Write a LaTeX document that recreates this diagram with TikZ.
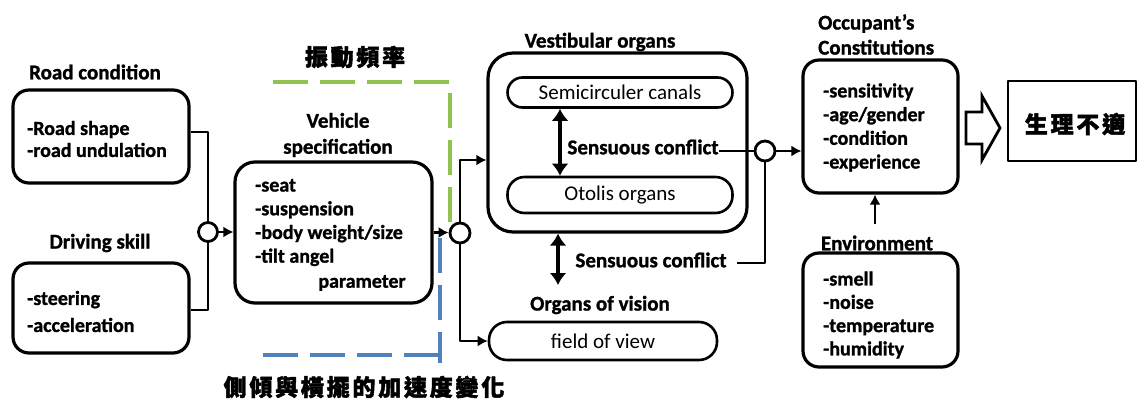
\documentclass[tikz,border=0pt]{standalone}
\usepackage{fontspec}
\setmainfont{Carlito}[BoldFeatures={FakeBold=1.2}]
\newfontfamily\cjk[LetterSpace=12,BoldFeatures={FakeBold=2}]{Noto Sans CJK TC}
\usetikzlibrary{arrows.meta}
\definecolor{dgreen}{RGB}{146,195,80}
\definecolor{dblue}{RGB}{79,129,189}
\begin{document}
\begin{tikzpicture}[x=1pt,y=-1pt,line join=round,
  box/.style={draw,line width=3.2pt,rounded corners=16pt,inner sep=0pt},
  pill/.style={draw,line width=2.6pt,rounded corners=15pt,inner sep=0pt,font=\fontsize{21}{24}\selectfont},
  hdr/.style={inner sep=0pt,align=center,font=\bfseries\fontsize{21}{26}\selectfont},
  lst/.style={inner sep=0pt,align=left,anchor=west,font=\bfseries\fontsize{20}{23.7}\selectfont},
  cjkf/.style={inner sep=0pt,font=\cjk\bfseries\fontsize{23}{26}\selectfont},
  circ/.style={circle,draw,fill=white,line width=2.8pt,minimum size=19pt,inner sep=0pt},
  conn/.style={line width=2.8pt},
  arr/.style={-{Latex[length=10pt,width=11pt]}},
  dbl/.style={line width=3.2pt,{Latex[length=12pt,width=17pt]}-{Latex[length=12pt,width=17pt]}},
  gdash/.style={line width=3.5pt,dgreen,dash pattern=on 35pt off 12pt},
  bdash/.style={line width=3.5pt,dblue,dash pattern=on 35pt off 12pt}]
\useasboundingbox (0,0) rectangle (1137,401);

% left boxes
\node[hdr] (roadl) at (95,72) {Road condition};
\node[box,minimum width=176pt,minimum height=93pt] (road) at (101,136.5) {};
\node[lst,font=\bfseries\fontsize{20}{22}\selectfont] (roadt) at (27,139) {-Road shape\\-road undulation};
\node[hdr] (drivel) at (100,243) {Driving skill};
\node[box,minimum width=176pt,minimum height=90pt] (drive) at (101,308) {};
\node[lst,font=\bfseries\fontsize{20}{27}\selectfont] (drivet) at (27,311.5) {-steering\\-acceleration};

% vehicle
\node[hdr] (vehl) at (338,135) {Vehicle\\specification};
\node[box,rounded corners=20pt,minimum width=197pt,minimum height=141pt] (veh) at (333.5,232.5) {};
\node[lst] (veht) at (255,222.5) {-seat\\-suspension\\-body weight/size\\-tilt angel};
\node[inner sep=0pt,font=\bfseries\fontsize{20}{24}\selectfont] (vehp) at (362,283) {parameter};

% dashed brackets
\node[cjkf] (vib) at (355,57) {振動頻率};
\draw[gdash] (273,82) -- (450,82) -- (450,228);
\draw[bdash] (263,355) -- (440,355);
\draw[bdash] (440,238) -- (440,363);
\node[cjkf] (acc) at (364,387) {側傾與橫擺的加速度變化};

% vestibular
\node[hdr] (vestl) at (600,42) {Vestibular organs};
\node[box,rounded corners=25pt,minimum width=259pt,minimum height=179pt] (vest) at (617.5,142.5) {};
\node[pill,minimum width=225pt,minimum height=30pt] (semi) at (620,92.5) {Semicirculer canals};
\node[pill,rounded corners=17pt,minimum width=225pt,minimum height=36pt] (oto) at (620,195) {Otolis organs};
\node[hdr] (sc1) at (643,147) {Sensuous conflict};
\node[hdr] (sc2) at (651,260) {Sensuous conflict};
\node[hdr] (visl) at (600,305) {Organs of vision};
\node[pill,rounded corners=18pt,minimum width=228pt,minimum height=38pt] (fov) at (603,341) {field of view};

% right
\node[hdr,anchor=west,align=left,font=\bfseries\fontsize{21}{25}\selectfont] (occl) at (818,34.5) {Occupant's\\Constitutions};
\node[box,minimum width=155pt,minimum height=133pt] (occ) at (880.5,126.5) {};
\node[lst] (occt) at (823,127.5) {-sensitivity\\-age/gender\\-condition\\-experience};
\node[hdr] (envl) at (877,243) {Environment};
\node[box,minimum width=155pt,minimum height=114pt] (env) at (880.5,310) {};
\node[lst,font=\bfseries\fontsize{20}{23.3}\selectfont] (envt) at (823,315) {-smell\\-noise\\-temperature\\-humidity};
\node[draw,line width=2.8pt,minimum width=128pt,minimum height=80pt,inner sep=0pt] (resbox) at (1072,121) {};
\node[cjkf] (res) at (1075,124) {生理不適};
\draw[line width=2.8pt,line join=miter] (966,112) -- (982,112) -- (982,96) -- (1000,128) -- (982,160) -- (982,144) -- (966,144) -- cycle;

% junctions
\node[circ] (c1) at (208,232) {};
\node[circ,minimum size=20pt] (c2) at (460,233) {};
\node[circ,minimum size=20pt] (c3) at (765,151) {};
\coordinate (dbl2end) at (558,285);
\coordinate (envarr) at (875,224);

\draw[conn] ([yshift=4.5pt]road.east) -| (c1.north);
\draw[conn] ([yshift=-2pt]drive.east) -| (c1.south);
\draw[conn,arr] (c1.east) -- (c1.east -| veh.west);
\draw[conn,arr] (veh.east) -- (veh.east -| c2.west);
\draw[conn,arr] (c2.north) |- ([yshift=-17.5pt]vest.west);
\draw[conn,arr] (c2.south) |- (fov.west);
\draw[dbl] ([xshift=-60pt]semi.south) -- ([xshift=-60pt]oto.north);
\draw[dbl] ([xshift=-59.5pt]vest.south) -- (dbl2end);
\draw[conn] (c3.west -| sc1.east) -- (c3.west);
\draw[conn] ([xshift=10pt,yshift=-3pt]sc2.east) -| (c3.south);
\draw[conn,arr] (c3.east) -- (c3.east -| occ.west);
\draw[conn,arr] (envarr) -- (envarr |- occ.south);
\end{tikzpicture}
\end{document}
